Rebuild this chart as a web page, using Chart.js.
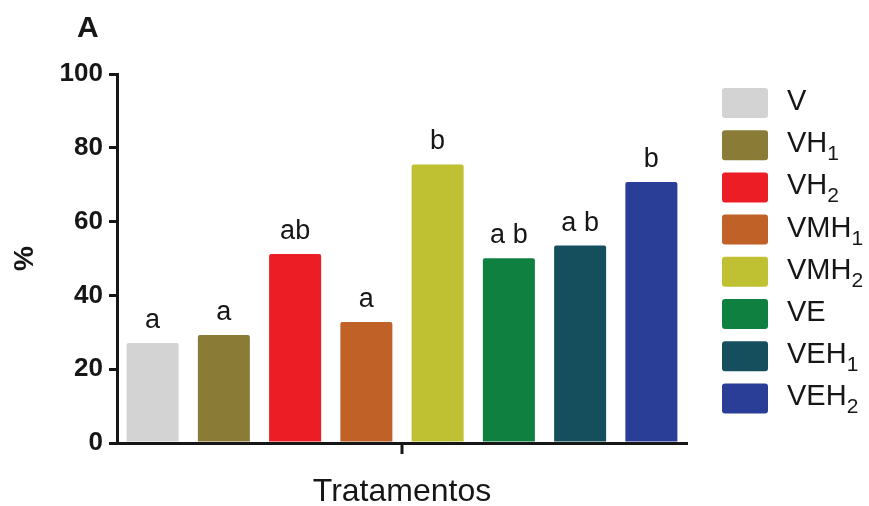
<!DOCTYPE html>
<html>
<head>
<meta charset="utf-8">
<script src="https://cdn.jsdelivr.net/npm/chart.js@4.4.1/dist/chart.umd.min.js"></script>
<style>
  html, body { margin: 0; padding: 0; background: #ffffff; }
  #wrap { width: 869px; height: 506px; position: relative; }
</style>
</head>
<body>
<div id="wrap"><canvas id="chart" width="869" height="506"></canvas></div>
<script>
// Treatments (a trailing digit is drawn as a subscript in the legend)
const categories = ['V', 'VH1', 'VH2', 'VMH1', 'VMH2', 'VE', 'VEH1', 'VEH2'];
// Percentage per treatment
const values = [27.1, 29.3, 51.2, 32.8, 75.5, 50.1, 53.5, 70.7];
// Significance letters shown above each bar
const letters = ['a', 'a', 'ab', 'a', 'b', 'a b', 'a b', 'b'];
const barColors = ['#d3d3d3', '#8a7b37', '#ec1d25', '#c06128', '#c0c132', '#0f8040', '#154f5d', '#2a3e98'];
const yTicks = [0, 20, 40, 60, 80, 100];

const FONT = '"Liberation Sans", Arial, Helvetica, sans-serif';
const INK = '#161616';

// Letters over the bars, panel tag, legend with subscripts and the single x tick
const decorations = {
  id: 'decorations',
  afterDatasetsDraw(chart) {
    const ctx = chart.ctx;
    const meta = chart.getDatasetMeta(0);
    ctx.save();
    ctx.fillStyle = INK;
    ctx.font = '27px ' + FONT;
    ctx.textAlign = 'center';
    ctx.textBaseline = 'alphabetic';
    meta.data.forEach((bar, i) => {
      ctx.fillText(letters[i], bar.x, bar.y - 15);
    });
    ctx.restore();
  },
  afterDraw(chart) {
    const ctx = chart.ctx;
    const area = chart.chartArea;
    const xScale = chart.scales.x;
    ctx.save();

    // centre tick on the x axis
    const mid = (xScale.left + xScale.right) / 2;
    ctx.strokeStyle = INK;
    ctx.lineWidth = 3;
    ctx.beginPath();
    ctx.moveTo(mid, area.bottom);
    ctx.lineTo(mid, area.bottom + 11);
    ctx.stroke();

    // panel tag
    ctx.fillStyle = INK;
    ctx.font = 'bold 30px ' + FONT;
    ctx.textAlign = 'left';
    ctx.textBaseline = 'alphabetic';
    ctx.fillText('A', 77, 37);

    // legend
    const boxX = area.right + 35;
    const textX = boxX + 65;
    const top0 = area.top + 14;
    const step = 42.2;
    categories.forEach((name, i) => {
      const y = top0 + i * step;
      ctx.fillStyle = barColors[i];
      ctx.beginPath();
      ctx.roundRect(boxX, y, 46, 30, 3);
      ctx.fill();

      const m = name.match(/^(.*?)(\d+)$/);
      const base = m ? m[1] : name;
      const sub = m ? m[2] : '';
      ctx.fillStyle = INK;
      ctx.font = '29px ' + FONT;
      ctx.textAlign = 'left';
      ctx.fillText(base, textX, y + 22);
      if (sub) {
        const w = ctx.measureText(base).width;
        ctx.font = '21px ' + FONT;
        ctx.fillText(sub, textX + w, y + 30);
      }
    });
    ctx.restore();
  }
};

new Chart(document.getElementById('chart'), {
  type: 'bar',
  data: {
    labels: categories,
    datasets: [{
      data: values,
      backgroundColor: barColors,
      borderWidth: 0,
      borderRadius: 2,
      borderSkipped: 'bottom',
      barPercentage: 0.73,
      categoryPercentage: 1.0
    }]
  },
  options: {
    responsive: false,
    animation: false,
    events: [],
    layout: { padding: { top: 74, right: 182, bottom: 0, left: 0 } },
    plugins: {
      legend: { display: false },
      tooltip: { enabled: false },
      title: { display: false }
    },
    scales: {
      x: {
        type: 'category',
        grid: { display: false },
        border: { display: true, color: INK, width: 3 },
        ticks: { display: false },
        title: {
          display: true,
          text: 'Tratamentos',
          color: INK,
          font: { family: FONT, size: 32, lineHeight: '28px' },
          padding: { top: 0, bottom: 0 }
        },
        afterFit(scale) { scale.height = 63; }
      },
      y: {
        min: 0,
        max: 100,
        afterBuildTicks(scale) { scale.ticks = yTicks.map(v => ({ value: v })); },
        grid: {
          display: true,
          drawOnChartArea: false,
          drawTicks: true,
          tickLength: 8,
          tickWidth: 3,
          tickColor: INK,
          color: INK,
          lineWidth: 3
        },
        border: { display: true, color: INK, width: 3 },
        ticks: {
          padding: 6,
          color: INK,
          font: { family: FONT, size: 26, weight: 'bold' }
        },
        title: {
          display: true,
          text: '%',
          color: INK,
          font: { family: FONT, size: 28, weight: 'bold', lineHeight: '28px' },
          padding: { top: 11, bottom: 0 }
        },
        afterFit(scale) { scale.width = 117; }
      }
    }
  },
  plugins: [decorations]
});
</script>
</body>
</html>
